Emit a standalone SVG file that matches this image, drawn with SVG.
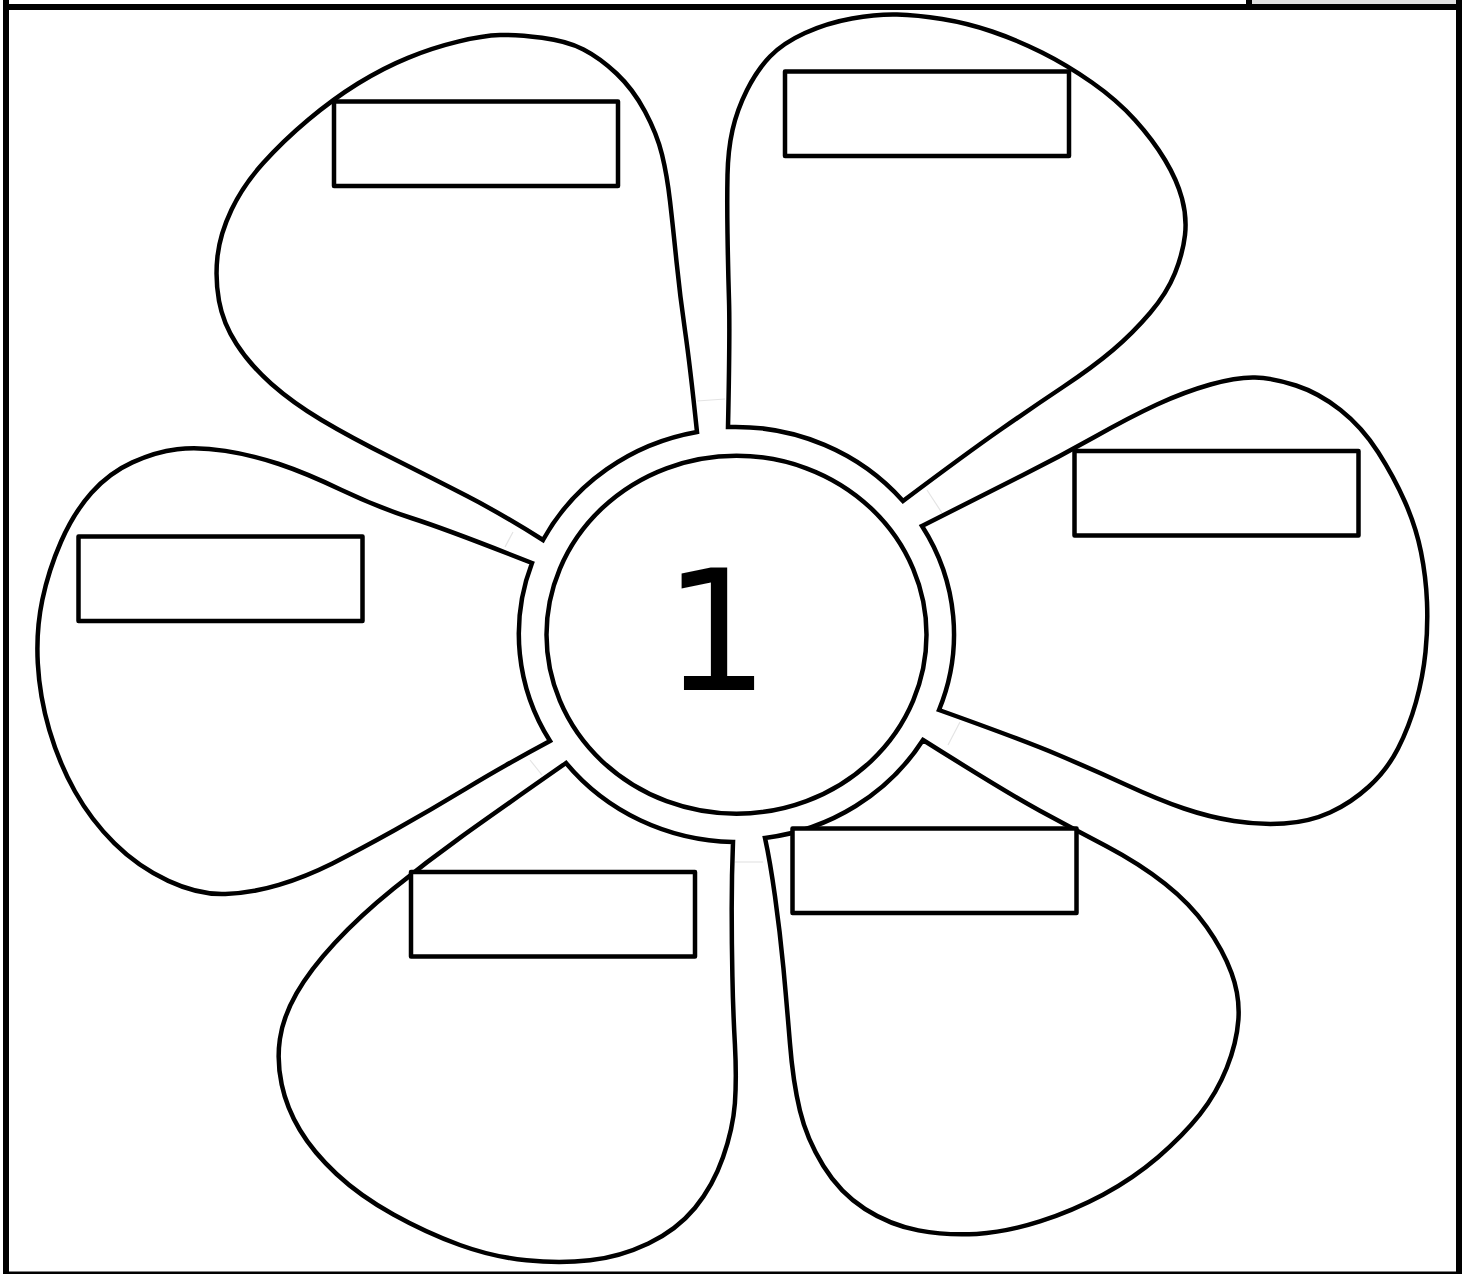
<svg xmlns="http://www.w3.org/2000/svg" width="1469" height="1274" viewBox="0 0 1469 1274">
<style>
.petal{fill:#fff;stroke:#000;stroke-width:4.5;stroke-linejoin:miter;stroke-miterlimit:10}
.box{fill:#fff;stroke:#000;stroke-width:4.5;stroke-linejoin:round}
.seam{fill:none;stroke:#e4e4e4;stroke-width:1.2}
.frame{fill:#000}
</style>
<rect width="1469" height="1274" fill="#fff"/>
<g id="frame">
<rect x="1252" y="0" width="204" height="4" fill="#e0e0e0"/>
<rect class="frame" x="1246" y="0" width="6" height="4"/>
<rect class="frame" x="3" y="4" width="1459" height="6"/>
<rect class="frame" x="3" y="0" width="6" height="1274"/>
<rect class="frame" x="1456" y="0" width="6" height="1274"/>
<rect class="frame" x="3" y="1271.5" width="1459" height="6"/>
</g>
<g id="petal-top-left">
<path class="petal" d="M697,432 Q690,365 685,330.5 Q680,296 676.5,261.5 Q673,227 670,201 Q667,175 662,154.5 Q657,134 645,111.5 Q633,89 616.5,73.5 Q600,58 583.5,49.5 Q567,41 542,37.8 Q517,34.5 500,35 Q483,35.5 458,41.6 Q433,47.6 408,57.8 Q383,68 358,83.5 Q333,99 308,120 Q283,141 263,163.3 Q243,185.5 231.5,209.8 Q220,234 217.5,256.3 Q215,278.6 219,300.8 Q223,323 236.5,344 Q250,365 271.5,384 Q293,403 321.5,420 Q350,437 391.5,457.8 Q433,478.6 466.5,495.8 Q500,513 543,540 A219,208 0 0 1 697,432 Z"/>
<rect class="box" x="334" y="101.5" width="284" height="84.5"/>
</g>
<g id="petal-top-right">
<path class="petal" d="M728,427 Q730,333 729,300 Q728,267 727.5,233.5 Q727,200 727.5,175 Q728,150 732.5,130 Q737,110 747,90 Q757,70 770,56.5 Q783,43 805,33 Q827,23 852,18.5 Q877,14 897,14.5 Q917,15 942,19 Q967,23 992,31.5 Q1017,40 1042,52.5 Q1067,65 1092,82.5 Q1117,100 1135,120 Q1153,140 1165,160 Q1177,180 1182,198.5 Q1187,217 1185,235 Q1183,253 1175,273 Q1167,293 1150,313 Q1133,333 1113,350 Q1093,367 1063,387 Q1033,407 1000,430 Q967,453 903,501 A219,208 0 0 0 728,427 Z"/>
<rect class="box" x="785" y="71.5" width="284" height="84.5"/>
</g>
<g id="petal-right">
<path class="petal" d="M922,526 Q987,493 1023,475 Q1059,457 1094.5,437 Q1130,417 1157,404.5 Q1184,392 1210.5,384.5 Q1237,377 1255,377.5 Q1273,378 1296,385.5 Q1319,393 1340.5,410 Q1362,427 1378,452 Q1394,477 1405,502 Q1416,527 1421,552 Q1426,577 1427,602 Q1428,627 1425.5,652 Q1423,677 1416,702 Q1409,727 1398,748.5 Q1387,770 1369,786.5 Q1351,803 1330,812.5 Q1309,822 1284,823.5 Q1259,825 1234,821 Q1209,817 1184,808.5 Q1159,800 1126.5,785 Q1094,770 1058.5,755 Q1023,740 939,710 A219,208 0 0 0 922,526 Z"/>
<rect class="box" x="1074.5" y="451" width="284" height="84.5"/>
</g>
<g id="petal-left">
<path class="petal" d="M532,563 Q448.6,530 412.8,518.5 Q377,507 341.5,490 Q306,473 279,464 Q252,455 225.3,450.9 Q198.6,446.7 177.2,449.2 Q155.7,451.7 132.4,462.4 Q109,473 91.3,493 Q73.6,513 61.1,541.5 Q48.6,570 42.3,600 Q36,630 37.8,663.4 Q39.6,696.7 49.3,729.9 Q59,763 75,791.5 Q91,820 114.5,843.4 Q137.9,866.7 168.3,880.9 Q198.6,895 225.3,894 Q252,893 278.9,884.9 Q305.7,876.7 332.4,863.4 Q359,850 394.9,830 Q430.7,810 466.4,788.4 Q502,766.7 550,741 A219,208 0 0 1 532,563 Z"/>
<rect class="box" x="78.5" y="536.5" width="284" height="84.5"/>
</g>
<g id="petal-bottom-left">
<path class="petal" d="M566,763 Q493,814 459.9,837.8 Q426.7,861.6 393.4,888.7 Q360,915.7 335,942.7 Q310,969.7 296.5,993.4 Q283,1017 279.9,1039 Q276.7,1061 281.7,1084.5 Q286.7,1108 299.9,1130 Q313,1152 336.5,1174 Q360,1196 393.4,1214.5 Q426.7,1233 459.9,1245 Q493,1257 526.5,1260.3 Q560,1263.6 590,1260.3 Q620,1257 648.4,1243.5 Q676.7,1230 694.9,1208 Q713,1186 723,1157.3 Q733,1128.5 734.9,1103.3 Q736.7,1078 734.9,1044 Q733,1010 732.4,976.4 Q731.7,942.7 731.7,908.9 Q731.7,875 733,842 A219,208 0 0 1 566,763 Z"/>
<rect class="box" x="411" y="872" width="284" height="84.5"/>
</g>
<g id="petal-bottom-right">
<path class="petal" d="M923,740 Q1006.7,792.8 1039.9,810.7 Q1073,828.6 1106.5,846.3 Q1140,864 1165,883.8 Q1190,903.6 1206.5,926.8 Q1223,950 1231.5,973 Q1240,996 1238.4,1019.5 Q1236.7,1043 1226.7,1068 Q1216.7,1093 1199.9,1114.4 Q1183,1135.7 1158,1157.2 Q1133,1178.6 1103,1194.7 Q1073,1210.7 1039.9,1221.4 Q1006.7,1232 976.7,1233.9 Q946.7,1235.7 918.4,1230.4 Q890,1225 865,1209 Q840,1192.9 823.4,1166 Q806.7,1139 799.9,1110.5 Q793,1082 789.9,1042.8 Q786.7,1003.6 783.4,967.8 Q780,932 775,896.4 Q770,860.7 765,838 A219,208 0 0 0 923,740 Z"/>
<rect class="box" x="792.5" y="828.5" width="284" height="84.5"/>
</g>
<g id="seams">
<line class="seam" x1="697" y1="401" x2="725" y2="399"/>
<line class="seam" x1="927" y1="490" x2="942" y2="513"/>
<line class="seam" x1="960" y1="722" x2="948" y2="745"/>
<line class="seam" x1="735" y1="862" x2="763" y2="862"/>
<line class="seam" x1="530" y1="760" x2="542" y2="775"/>
<line class="seam" x1="513" y1="532" x2="505" y2="547"/>
</g>
<g id="center">
<ellipse cx="736.5" cy="634.7" rx="190" ry="179" fill="#fff" stroke="#000" stroke-width="4.5"/>
<text x="716.5" y="690" font-family="DejaVu Sans, sans-serif" font-size="167" text-anchor="middle" fill="#000">1</text>
</g>
</svg>
